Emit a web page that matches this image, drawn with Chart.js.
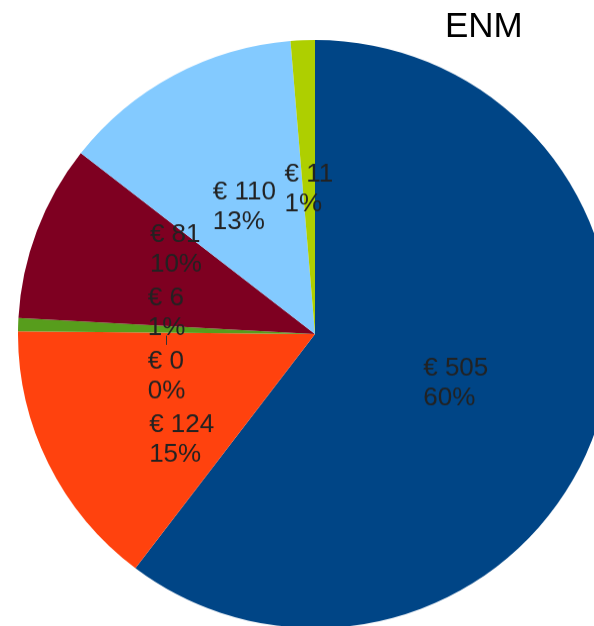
<!DOCTYPE html>
<html>
<head>
<meta charset="utf-8">
<script src="https://cdn.jsdelivr.net/npm/chart.js@4/dist/chart.umd.min.js"></script>
<style>
    html, body { margin: 0; padding: 0; overflow: hidden; background: #fff; }
    #page { position: relative; width: 594px; height: 626px; overflow: hidden; }
    /* la tarta original es un poco ovalada */
    #box { position: absolute; left: 18px; top: 40px; width: 594px; height: 594px; transform: scaleY(0.99); transform-origin: 0 0; }
    #title { position: absolute; left: 445px; top: 7px; font: 35px "Liberation Sans", Arial, sans-serif; line-height: 35px; color: #000; }
</style>
</head>
<body>
<div id="page">
    <div id="box"><canvas id="chartPie"></canvas></div>
    <div id="title">ENM</div>
</div>
<script>
const categories = ['A', 'B', 'C', 'D', 'E', 'F', 'G']
const values = [505, 124, 0, 6, 81, 110, 11]
const colors = ['#004586', '#ff420e', '#ffd320', '#579d1c', '#7e0021', '#83caff', '#aecf00']

// etiquetas dentro de las porciones, separadas si se tapan
const pieLabels = {
    id: 'pieLabels',
    afterDatasetsDraw(chart) {
        const ctx = chart.ctx
        const meta = chart.getDatasetMeta(0)
        const total = values.reduce((a, b) => a + b, 0)
        const lineH = 30
        ctx.save()
        ctx.font = '26px "Liberation Sans", Arial, sans-serif'
        const labels = meta.data.map((arc, i) => {
            const p = arc.getProps(['x', 'y', 'startAngle', 'endAngle', 'outerRadius'], true)
            const mid = (p.startAngle + p.endAngle) / 2
            const ax = p.x + Math.cos(mid) * p.outerRadius * 0.5
            const ay = p.y + Math.sin(mid) * p.outerRadius * 0.5
            const l1 = '€ ' + values[i]
            const l2 = Math.round(values[i] / total * 100) + '%'
            const w = Math.max(ctx.measureText(l1).width, ctx.measureText(l2).width)
            return { i, ax, ay, x: ax, y: ay + 2, w, h: lineH * 2 + 4, l1, l2, p }
        })
        // el de arriba se mueve un poco menos que el de abajo
        const up = 0.45
        for (let it = 0; it < 400; it++) {
            for (let a = 0; a < labels.length; a++) {
                for (let b = a + 1; b < labels.length; b++) {
                    let A = labels[a], B = labels[b]
                    if (Math.abs(A.x - B.x) >= (A.w + B.w) / 2) continue
                    if (B.y < A.y) { const t = A; A = B; B = t }
                    const dy = B.y - A.y
                    if (dy >= A.h) continue
                    const push = A.h - dy + 0.01
                    A.y -= push * up
                    B.y += push * (1 - up)
                }
            }
        }
        ctx.fillStyle = '#222'
        ctx.strokeStyle = '#333'
        ctx.lineWidth = 1
        ctx.textBaseline = 'middle'
        ctx.textAlign = 'left'
        labels.forEach(L => {
            const left = L.x - L.w / 2
            const top = L.y - L.h / 2
            const inBox = L.ax >= left && L.ax <= left + L.w && L.ay >= top && L.ay <= top + L.h
            let ang = Math.atan2(L.y - L.p.y, L.x - L.p.x)
            while (ang < L.p.startAngle) ang += Math.PI * 2
            const inSlice = ang <= L.p.endAngle
            if (!inBox && !inSlice) {
                ctx.beginPath()
                ctx.moveTo(L.ax, L.ay + 3)
                ctx.lineTo(L.ax, L.ay < L.y ? top : top + L.h)
                ctx.stroke()
            }
            ctx.fillText(L.l1, left, L.y - lineH / 2)
            ctx.fillText(L.l2, left, L.y + lineH / 2)
        })
        ctx.restore()
    }
}

const myPie = new Chart(chartPie, {
    type: 'pie',
    data: {
        labels: categories,
        datasets: [{
            data: values,
            backgroundColor: colors,
            borderWidth: 0
        }]
    },
    options: {
        responsive: true,
        maintainAspectRatio: false,
        animation: false,
        plugins: {
            legend: { display: false },
            tooltip: { enabled: false }
        }
    },
    plugins: [pieLabels]
})
</script>
</body>
</html>
